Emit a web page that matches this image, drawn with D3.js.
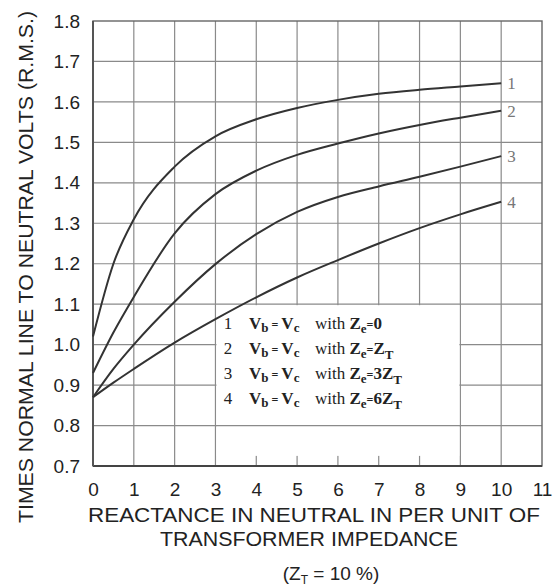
<!DOCTYPE html>
<html><head><meta charset="utf-8">
<script src="https://cdn.jsdelivr.net/npm/d3@7"></script>
<style>body{margin:0;background:#fff}</style>
</head><body>
<svg id="c" width="560" height="586"></svg>
<script>
const xVals = [0, 0.5, 1, 2, 3, 4, 5, 6, 7, 8, 9, 10];
const curve1 = [1.02, 1.2, 1.31, 1.44, 1.515, 1.557, 1.585, 1.605, 1.62, 1.63, 1.638, 1.646];
const curve2 = [0.93, 1.03, 1.118, 1.275, 1.372, 1.43, 1.469, 1.497, 1.522, 1.543, 1.561, 1.578];
const curve3 = [0.87, 0.94, 1.0, 1.106, 1.199, 1.273, 1.328, 1.365, 1.391, 1.415, 1.44, 1.466];
const curve4 = [0.87, 0.906, 0.94, 1.005, 1.063, 1.117, 1.166, 1.209, 1.25, 1.288, 1.322, 1.353];
const seriesNames = ["1", "2", "3", "4"];
const xTicks = [0,1,2,3,4,5,6,7,8,9,10,11];
const yTicks = [0.7,0.8,0.9,1.0,1.1,1.2,1.3,1.4,1.5,1.6,1.7,1.8];
const legendZe = [["0"], ["Z","T"], ["3Z","T"], ["6Z","T"]];
const yTitle = "TIMES NORMAL LINE TO NEUTRAL VOLTS (R.M.S.)";
const xTitle = ["REACTANCE IN NEUTRAL IN PER UNIT OF", "TRANSFORMER IMPEDANCE"];

const svg = d3.select("#c");
const x = d3.scaleLinear().domain([0, 11]).range([93, 542]);
const y = d3.scaleLinear().domain([0.7, 1.8]).range([466, 21]);
const gridCol = "#8a8a8a";

// grid
svg.append("g").selectAll("line").data(xTicks.slice(1, -1)).join("line")
  .attr("x1", d => x(d)).attr("x2", d => x(d)).attr("y1", y(1.8)).attr("y2", y(0.7))
  .attr("stroke", gridCol).attr("stroke-width", 1.2);
svg.append("g").selectAll("line").data(yTicks.slice(1, -1)).join("line")
  .attr("x1", x(0)).attr("x2", x(11)).attr("y1", d => y(d)).attr("y2", d => y(d))
  .attr("stroke", gridCol).attr("stroke-width", 1.2);

// legend white box
svg.append("rect").attr("x", x(3) + 1).attr("y", y(1.1) + 1)
  .attr("width", x(9) - x(3) - 2).attr("height", y(0.725) - y(1.1) - 1).attr("fill", "#fff");
svg.append("line").attr("x1", x(3)).attr("x2", x(9)).attr("y1", y(0.8)).attr("y2", y(0.8))
  .attr("stroke", gridCol).attr("stroke-width", 1.2);

// frame
svg.append("rect").attr("x", x(0)).attr("y", y(1.8)).attr("width", x(11) - x(0)).attr("height", y(0.7) - y(1.8))
  .attr("fill", "none").attr("stroke", "#666").attr("stroke-width", 1.4);
svg.append("line").attr("x1", x(0)).attr("x2", x(11)).attr("y1", y(0.7)).attr("y2", y(0.7))
  .attr("stroke", "#444").attr("stroke-width", 2.2);
svg.append("line").attr("x1", x(0)).attr("x2", x(0)).attr("y1", y(1.8)).attr("y2", y(0.7))
  .attr("stroke", "#555").attr("stroke-width", 2);

// axes (labels)
const yAxis = svg.append("g").attr("transform", `translate(${x(0)},0)`)
  .call(d3.axisLeft(y).tickValues(yTicks).tickFormat(d3.format(".1f")).tickSize(0).tickPadding(13));
const xAxis = svg.append("g").attr("transform", `translate(0,${y(0.7)})`)
  .call(d3.axisBottom(x).tickValues(xTicks).tickFormat(d3.format("d")).tickSize(0).tickPadding(17));
[yAxis, xAxis].forEach(a => {
  a.select(".domain").remove();
  a.selectAll("text").attr("font-family", "Liberation Sans, Arial, sans-serif").attr("fill", "#222");
});
yAxis.selectAll("text").attr("font-size", 19);
xAxis.selectAll("text").attr("font-size", 19);

// curves
const data = [curve1, curve2, curve3, curve4];
const line = d3.line().x((d, i) => x(xVals[i])).y(d => y(d)).curve(d3.curveMonotoneX);
svg.append("g").selectAll("path").data(data).join("path")
  .attr("d", d => line(d))
  .attr("fill", "none").attr("stroke", "#333").attr("stroke-width", 2);

// curve labels
svg.append("g").selectAll("text").data(data).join("text")
  .attr("x", x(xVals[xVals.length - 1]) + 6).attr("y", d => y(d[d.length - 1]) + 6)
  .attr("font-family", "Liberation Serif, serif").attr("font-size", 17).attr("fill", "#777")
  .text((d, i) => seriesNames[i]);

// legend text
const leg = svg.append("g").attr("font-family", "Liberation Serif, serif").attr("fill", "#222");
seriesNames.forEach((n, i) => {
  const by = 329 + i * 25;
  leg.append("text").attr("x", 228).attr("y", by).attr("text-anchor", "middle").attr("font-size", 17).text(n);
  const t = leg.append("text").attr("x", 249).attr("y", by).attr("font-size", 17).attr("font-weight", "bold");
  t.append("tspan").text("V");
  t.append("tspan").attr("font-size", 13).attr("dy", 3).text("b");
  t.append("tspan").attr("font-size", 12).attr("dy", -3).text(" = ");
  t.append("tspan").text("V");
  t.append("tspan").attr("font-size", 13).attr("dy", 3).text("c");
  t.append("tspan").attr("dy", -3).attr("font-weight", "normal").attr("x", 315).text("with ");
  t.append("tspan").text("Z");
  t.append("tspan").attr("font-size", 13).attr("dy", 4).text("e");
  t.append("tspan").attr("font-size", 12).attr("dy", -4).text("=");
  const z = legendZe[i];
  t.append("tspan").text(z[0]);
  if (z[1]) t.append("tspan").attr("font-size", 13).attr("dy", 5).text(z[1]);
});

// titles
svg.append("text").attr("transform", `translate(33,267) rotate(-90)`).attr("text-anchor", "middle")
  .attr("font-family", "Liberation Sans, Arial, sans-serif").attr("font-size", 20).attr("fill", "#222")
  .attr("textLength", 512).attr("lengthAdjust", "spacingAndGlyphs").text(yTitle);
svg.append("text").attr("x", 314).attr("y", 522).attr("text-anchor", "middle")
  .attr("font-family", "Liberation Sans, Arial, sans-serif").attr("font-size", 20).attr("fill", "#222")
  .attr("textLength", 452).attr("lengthAdjust", "spacingAndGlyphs").text(xTitle[0]);
svg.append("text").attr("x", 309).attr("y", 546).attr("text-anchor", "middle")
  .attr("font-family", "Liberation Sans, Arial, sans-serif").attr("font-size", 20).attr("fill", "#222")
  .attr("textLength", 298).attr("lengthAdjust", "spacingAndGlyphs").text(xTitle[1]);
const zt = svg.append("text").attr("x", 331).attr("y", 580).attr("text-anchor", "middle")
  .attr("font-family", "Liberation Sans, Arial, sans-serif").attr("font-size", 19).attr("fill", "#222");
zt.append("tspan").text("(Z");
zt.append("tspan").attr("font-size", 12).attr("dy", 4).text("T");
zt.append("tspan").attr("dy", -4).text(" = 10 %)");
</script>
</body></html>
